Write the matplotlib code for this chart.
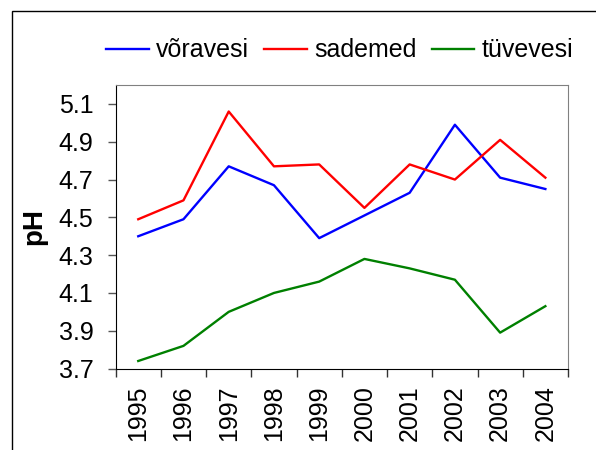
import matplotlib.pyplot as plt
from matplotlib.patches import Rectangle

plt.rcParams['font.family'] = ['Liberation Sans', 'DejaVu Sans']

# pH values per year
years = ['1995', '1996', '1997', '1998', '1999', '2000', '2001', '2002', '2003', '2004']
voravesi = [4.40, 4.49, 4.77, 4.67, 4.39, 4.51, 4.63, 4.99, 4.71, 4.65]
sademed = [4.49, 4.59, 5.06, 4.77, 4.78, 4.55, 4.78, 4.70, 4.91, 4.71]
tuvevesi = [3.74, 3.82, 4.00, 4.10, 4.16, 4.28, 4.23, 4.17, 3.89, 4.03]
y_ticks = [3.7, 3.9, 4.1, 4.3, 4.5, 4.7, 4.9, 5.1]

fig = plt.figure(figsize=(5.96, 4.5), dpi=100)
ax = fig.add_axes([0.194, 0.181, 0.759, 0.630])

# outer frame (only left and top edges visible in the picture)
fig.patches.append(Rectangle((12 / 596, -0.1), 1.2, 1.1 - 11 / 450,
                             transform=fig.transFigure, fill=False,
                             edgecolor='black', linewidth=1.0))

x = list(range(len(years)))
ax.plot(x, voravesi, color='#0000FF', linewidth=1.7, label='võravesi')
ax.plot(x, sademed, color='#FF0000', linewidth=1.7, label='sademed')
ax.plot(x, tuvevesi, color='#008000', linewidth=1.7, label='tüvevesi')

ax.set_xlim(-0.5, len(years) - 0.5)
ax.set_ylim(3.7, 5.2)
ax.set_yticks(y_ticks)
ax.set_yticklabels([f'{v:.1f}' for v in y_ticks], fontsize=18)

# Excel-style category axis: ticks between categories, labels at centres
ax.set_xticks([i - 0.5 for i in range(len(years) + 1)])
ax.set_xticklabels([])
ax.set_xticks(x, minor=True)
ax.set_xticklabels(years, minor=True, rotation=90, fontsize=18)
ax.tick_params(axis='x', which='major', length=6, width=1, color='#333333')
ax.tick_params(axis='x', which='minor', length=0, pad=12)
ax.tick_params(axis='y', length=6, width=1, color='#555555', pad=10)

ax.set_ylabel('pH', fontsize=20, fontweight='bold', labelpad=8)

for side in ['top', 'right']:
    ax.spines[side].set_color('#808080')
for side in ['left', 'bottom']:
    ax.spines[side].set_color('black')

fig.legend(loc='upper center', bbox_to_anchor=(0.57, 0.965), ncol=3,
           frameon=False, fontsize=18, handlelength=1.7, handletextpad=0.3,
           columnspacing=0.6)

plt.savefig('out.png', dpi=100)
